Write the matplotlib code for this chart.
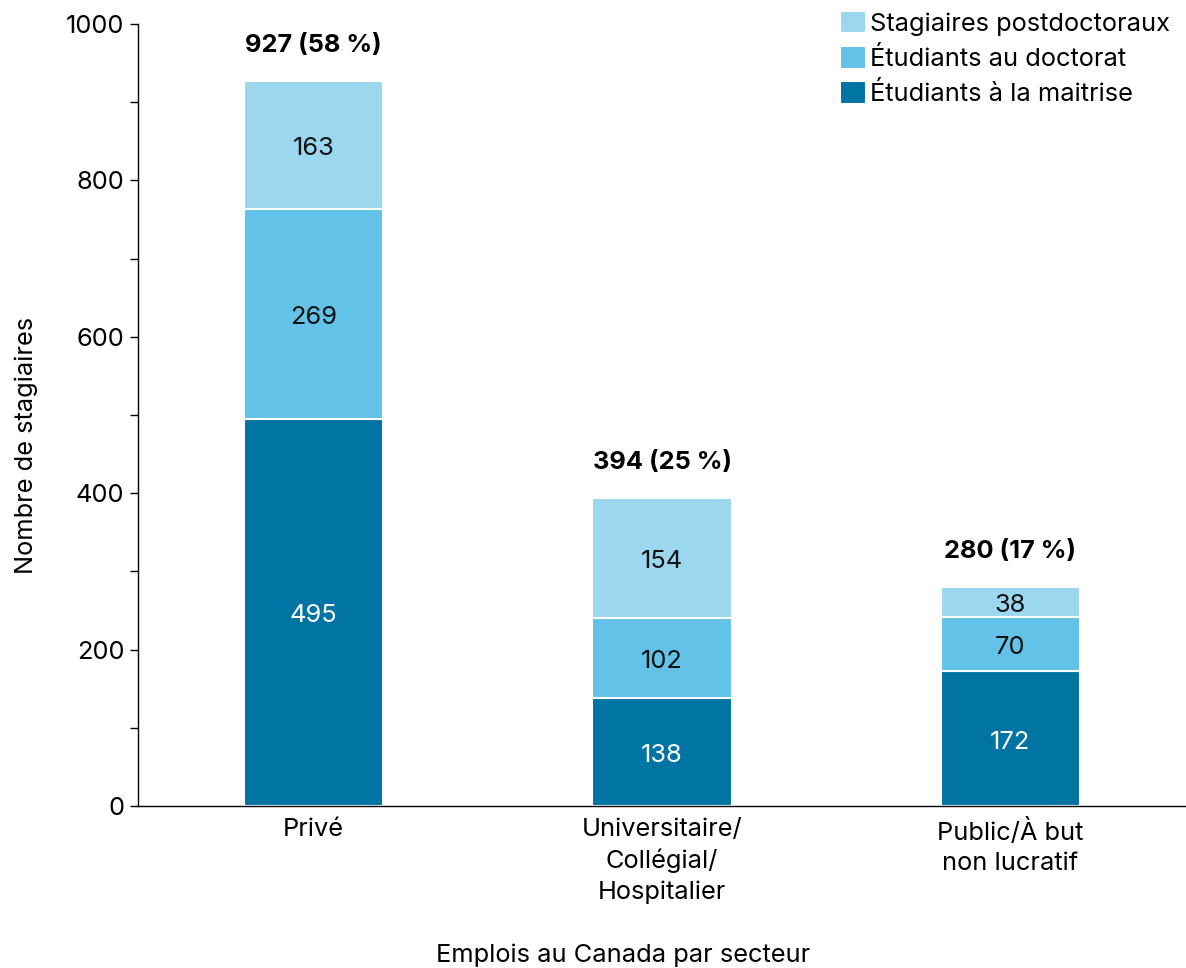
import matplotlib
matplotlib.use("Agg")
import matplotlib.pyplot as plt
import numpy as np
from matplotlib.ticker import MultipleLocator

plt.rcParams['font.family'] = ['Inter', 'DejaVu Sans']

categories = ["Privé", "Universitaire/\nCollégial/\nHospitalier", "Public/À but\nnon lucratif"]
maitrise = [495, 138, 172]
doctorat = [269, 102, 70]
postdoc = [163, 154, 38]
totals = [927, 394, 280]
percents = [58, 25, 17]

series_names = ["Étudiants à la maitrise", "Étudiants au doctorat", "Stagiaires postdoctoraux"]
colors = ["#0074A3", "#63C2E8", "#9BD8F0"]
text_colors = ["white", "#111111", "#111111"]

FS = 18.3

fig = plt.figure(figsize=(11.86, 9.68), dpi=100)
ax = fig.add_axes([0.1164, 0.1674, 0.8836, 0.8078])

x = np.arange(len(categories))
width = 0.4
bottom = np.zeros(len(categories))
handles = []
for vals, name, col, tc in zip([maitrise, doctorat, postdoc], series_names, colors, text_colors):
    bars = ax.bar(x, vals, width, bottom=bottom, color=col, edgecolor="white", linewidth=1.5, label=name)
    handles.append(bars)
    for xi, b, v in zip(x, bottom, vals):
        ax.annotate(str(v), (xi, b + v / 2), xytext=(0, -2.5), textcoords="offset points",
                    ha="center", va="center", fontsize=FS, color=tc)
    bottom = bottom + np.array(vals)

for xi, t, p in zip(x, totals, percents):
    ax.annotate(f"{t} ({p} %)", (xi, t), xytext=(0, 25.5), textcoords="offset points",
                ha="center", va="center", fontsize=FS, fontweight="bold")

ax.set_xlim(-0.504, 2.504)
ax.set_ylim(0, 1000)
ax.yaxis.set_major_locator(MultipleLocator(200))
ax.yaxis.set_minor_locator(MultipleLocator(100))
ax.tick_params(axis="y", which="major", labelsize=FS, length=6, width=1, direction="out", pad=4)
ax.tick_params(axis="y", which="minor", length=6, width=1, direction="out")
ax.set_xticks(x)
ax.set_xticklabels(categories, fontsize=FS, linespacing=1.38)
ax.tick_params(axis="x", length=0, pad=9)

for s in ["top", "right"]:
    ax.spines[s].set_visible(False)
ax.spines["left"].set_linewidth(1)
ax.spines["bottom"].set_linewidth(1)

ax.set_ylabel("Nombre de stagiaires", fontsize=FS, labelpad=20)
ax.yaxis.label.set_y(0.4616)
fig.text(0.5255, 1 - 955 / 968, "Emplois au Canada par secteur", ha="center", va="center", fontsize=FS)

leg = ax.legend(handles=handles[::-1], loc="upper right", bbox_to_anchor=(0.994, 1.03),
                frameon=False, fontsize=FS, handlelength=1.0, handleheight=1.0,
                handletextpad=0.15, labelspacing=0.4, borderaxespad=0)

fig.savefig("out.png", dpi=100)
